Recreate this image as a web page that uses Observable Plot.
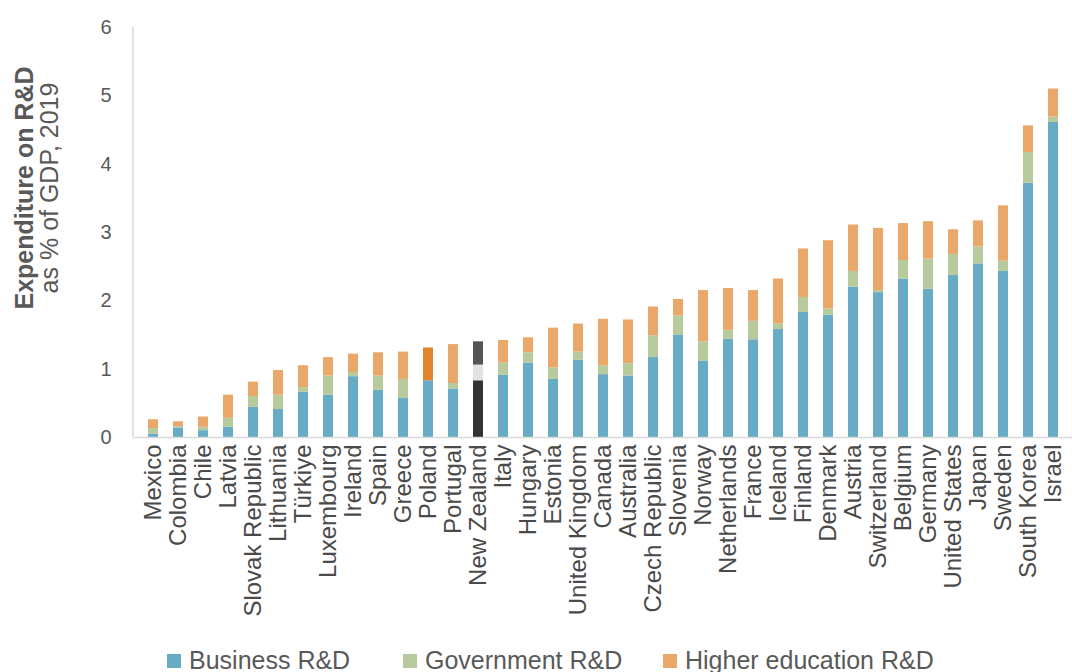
<!DOCTYPE html>
<html>
<head>
<meta charset="utf-8">
<script src="https://cdn.jsdelivr.net/npm/d3@7"></script>
<script src="https://cdn.jsdelivr.net/npm/@observablehq/plot@0.6"></script>
<style>
  html, body { margin: 0; padding: 0; background: #fff; }
  #wrap { position: relative; width: 1072px; height: 672px; font-family: "Liberation Sans", Arial, sans-serif; }
  #legend { position: absolute; left: 0; top: 640px; width: 1072px; height: 32px; }
  .item { position: absolute; top: 6px; display: flex; align-items: center; font-size: 25px; color: #595959; white-space: nowrap; }
  .sw { width: 14px; height: 14px; margin-right: 8px; }
</style>
</head>
<body>
<div id="wrap">
  <div id="chart"></div>
  <div id="legend"></div>
</div>
<script>
// OECD gross domestic expenditure on R&D by performing sector, % of GDP, 2019
const countries = ["Mexico", "Colombia", "Chile", "Latvia", "Slovak Republic", "Lithuania", "Türkiye",
  "Luxembourg", "Ireland", "Spain", "Greece", "Poland", "Portugal", "New Zealand", "Italy", "Hungary",
  "Estonia", "United Kingdom", "Canada", "Australia", "Czech Republic", "Slovenia", "Norway",
  "Netherlands", "France", "Iceland", "Finland", "Denmark", "Austria", "Switzerland", "Belgium",
  "Germany", "United States", "Japan", "Sweden", "South Korea", "Israel"];

const business = [0.05, 0.14, 0.10, 0.15, 0.44, 0.41, 0.66, 0.62, 0.89, 0.69, 0.57, 0.83, 0.71, 0.83,
  0.91, 1.09, 0.85, 1.13, 0.92, 0.90, 1.17, 1.50, 1.12, 1.44, 1.43, 1.58, 1.83, 1.79, 2.20, 2.12,
  2.32, 2.17, 2.37, 2.54, 2.43, 3.72, 4.61];

const government = [0.08, 0.02, 0.05, 0.13, 0.16, 0.21, 0.07, 0.28, 0.06, 0.21, 0.28, 0.00, 0.08, 0.23,
  0.18, 0.15, 0.17, 0.12, 0.13, 0.18, 0.32, 0.28, 0.28, 0.13, 0.27, 0.08, 0.22, 0.09, 0.23, 0.03,
  0.27, 0.44, 0.31, 0.25, 0.15, 0.45, 0.08];

const higherEducation = [0.13, 0.07, 0.15, 0.34, 0.21, 0.36, 0.32, 0.27, 0.27, 0.34, 0.40, 0.48, 0.57, 0.34,
  0.33, 0.22, 0.58, 0.41, 0.68, 0.64, 0.42, 0.24, 0.75, 0.61, 0.45, 0.66, 0.71, 1.00, 0.68, 0.91,
  0.54, 0.55, 0.36, 0.38, 0.81, 0.39, 0.41];

const sectors = ["Business R&D", "Government R&D", "Higher education R&D"];
const tickValues = [0, 1, 2, 3, 4, 5, 6];

// Sector colours, with two countries drawn in their own highlight colours
const sectorColors = {"Business R&D": "#67abc5", "Government R&D": "#b6ca9c", "Higher education R&D": "#e9a86a"};
const highlightColors = {
  "Poland": {"Business R&D": "#67abc5", "Government R&D": "#b6ca9c", "Higher education R&D": "#e0842e"},
  "New Zealand": {"Business R&D": "#333333", "Government R&D": "#e2e2e2", "Higher education R&D": "#555555"}
};

const rows = [];
countries.forEach((c, i) => {
  const vals = [business[i], government[i], higherEducation[i]];
  sectors.forEach((s, j) => rows.push({country: c, sector: s, value: vals[j]}));
});
const colorOf = d => (highlightColors[d.country] || sectorColors)[d.sector];

const W = 1072, H = 640, mL = 133, mT = 27, mB = 203;
const textColor = "#595959";

const chart = Plot.plot({
  width: W,
  height: H,
  marginLeft: mL,
  marginRight: 0,
  marginTop: mT,
  marginBottom: mB,
  style: {fontFamily: "Liberation Sans, Arial, sans-serif", color: textColor, background: "#fff"},
  x: {domain: countries, paddingInner: 0.6, paddingOuter: 0.3},
  y: {domain: [0, 6]},
  marks: [
    Plot.barY(rows, Plot.stackY({x: "country", y: "value", fill: colorOf})),
    Plot.ruleY([0], {stroke: "#d9d9d9", strokeWidth: 1.5}),
    // left axis line from the top tick down to zero
    (index, scales) => {
      const line = d3.create("svg:line")
        .attr("x1", mL).attr("x2", mL)
        .attr("y1", scales.y(6)).attr("y2", scales.y(0))
        .attr("stroke", "#d9d9d9").attr("stroke-width", 1.5);
      return line.node();
    },
    Plot.axisY({ticks: tickValues, tickSize: 0, tickPadding: 22, fontSize: 20, fill: textColor, label: null, tickFormat: d => String(d)}),
    Plot.axisX({tickRotate: -90, tickSize: 0, tickPadding: 7, fontSize: 24, fill: "#4a4a4a", label: null})
  ]
});

const svg = d3.select(chart);

// Two-line rotated y title
const title = svg.append("g").attr("transform", "translate(33,188) rotate(-90)")
  .attr("font-family", "Liberation Sans, Arial, sans-serif").attr("fill", textColor).attr("text-anchor", "middle");
title.append("text").attr("font-size", 25).attr("font-weight", "bold").text("Expenditure on R&D");
title.append("text").attr("font-size", 25).attr("y", 25).text("as % of GDP, 2019");

document.getElementById("chart").appendChild(chart);

// Legend below the plot
const legendPos = [167, 403, 663];
const legend = d3.select("#legend");
sectors.forEach((s, i) => {
  const item = legend.append("div").attr("class", "item").style("left", legendPos[i] + "px");
  item.append("div").attr("class", "sw").style("background", sectorColors[s]);
  item.append("span").text(s);
});
</script>
</body>
</html>
